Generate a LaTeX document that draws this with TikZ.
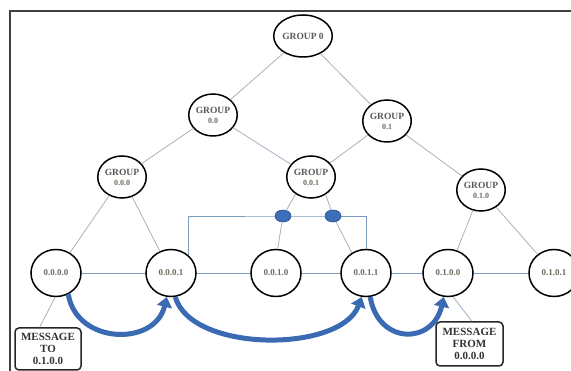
\documentclass[tikz,border=0pt]{standalone}
\usepackage{fontspec}
\setmainfont{Liberation Serif}
\usetikzlibrary{arrows.meta,shapes.geometric}
\definecolor{txtgray}{RGB}{90,90,90}
\definecolor{numgray}{RGB}{105,110,95}
\definecolor{edgegray}{RGB}{165,178,192}
\definecolor{chainblue}{RGB}{120,155,190}
\definecolor{hopblue}{RGB}{58,106,178}
\definecolor{knotblue}{RGB}{60,110,185}

\begin{document}
\begin{tikzpicture}[x=1pt, y=-1pt,
  grp/.style={ellipse, draw=black, line width=1.5pt, fill=white, minimum width=46pt, minimum height=42pt,
    inner sep=0pt, align=center, text=txtgray, font=\fontsize{9.5}{10}\selectfont\bfseries},
  leaf/.style={grp, minimum width=50pt, minimum height=47pt, text=numgray, font=\fontsize{9}{10}\selectfont\bfseries},
  edge/.style={draw=edgegray, line width=0.8pt},
  chain/.style={draw=chainblue, line width=0.9pt},
  knot/.style={ellipse, fill=knotblue, draw=knotblue!70!black, line width=0.6pt, minimum width=16pt, minimum height=12pt, inner sep=0pt},
  msg/.style={draw=black!85, line width=1.5pt, rounded corners=4pt, fill=white, align=center, inner sep=1pt,
    text=black!80, font=\fontsize{11}{12}\selectfont\bfseries},
  hop/.style={draw=hopblue, line width=5pt, -{Triangle[width=15pt,length=10pt]}}
]
  \useasboundingbox (0,0) rectangle (571,371);
  \clip (0,0) rectangle (571,371);
  \def\leafrow{273}

  % frame
  \draw[line width=1.5pt, black!75] (10,390) |- (590,11);

  % groups
  \node[grp] (grp0) at (303,36) {GROUP 0};
  \node[grp] (grp00) at (213,115) {GROUP\\{\fontsize{8}{9}\selectfont\color{numgray}0.0}};
  \node[grp] (grp01) at (387,121) {GROUP\\{\fontsize{8}{9}\selectfont\color{numgray}0.1}};
  \node[grp] (grp000) at (122,177) {GROUP\\{\fontsize{8}{9}\selectfont\color{numgray}0.0.0}};
  \node[grp] (grp001) at (311,177) {GROUP\\{\fontsize{8}{9}\selectfont\color{numgray}0.0.1}};
  \node[grp] (grp010) at (481,190) {GROUP\\{\fontsize{8}{9}\selectfont\color{numgray}0.1.0}};

  % leaves
  \node[leaf] (l0000) at (56,\leafrow) {0.0.0.0};
  \node[leaf] (l0001) at (171,\leafrow) {0.0.0.1};
  \node[leaf] (l0010) at (276,\leafrow) {0.0.1.0};
  \node[leaf] (l0011) at (366,\leafrow) {0.0.1.1};
  \node[leaf] (l0100) at (448,\leafrow) {0.1.0.0};
  \node[leaf] (l0101) at (554,\leafrow) {0.1.0.1};

  % message boxes
  \node[msg, minimum width=66pt, minimum height=42pt] (msgto) at (48,349) {MESSAGE\\TO\\0.1.0.0};
  \node[msg, minimum width=67pt, minimum height=44pt] (msgfrom) at (469.5,344) {MESSAGE\\FROM\\0.0.0.0};

  % bracket between 0.0.0.1 and 0.0.1.1
  \coordinate (bar) at (300,216);
  \draw[chain] (l0001.45) |- (bar) -| (l0011.north);
  \node[knot] (knotA) at (283,216) {};
  \node[knot] (knotB) at (333,216) {};

  % tree edges
  \foreach \a/\b in {grp0/grp00, grp0/grp01, grp00/grp000, grp00/grp001, grp01/grp001, grp01/grp010,
    grp000/l0000, grp000/l0001, grp010/l0100, grp010/l0101}
    \draw[edge] (\a) -- (\b);
  \draw[edge] (grp001.-132) -- (knotA) -- (l0010.86);
  \draw[edge] (grp001.-50) -- (knotB) -- (l0011.125);
  \draw[edge] (l0000.-92) -- (msgto.111);
  \draw[edge] (l0100.-78) -- (msgfrom.84);

  % leaf row
  \foreach \a/\b in {l0000/l0001, l0001/l0010, l0010/l0011, l0011/l0100, l0100/l0101}
    \draw[chain] (\a) -- (\b);

  % hops of the message
  \draw[hop] (l0000.-60) .. controls +(8,50) and +(-12,50) .. (l0001.-100);
  \draw[hop] (l0001.-80) .. controls +(16,56) and +(-21,56) .. (l0011.-100);
  \draw[hop] (l0011.-80) .. controls +(8,48) and +(-11,48) .. (l0100.-100);
\end{tikzpicture}
\end{document}
